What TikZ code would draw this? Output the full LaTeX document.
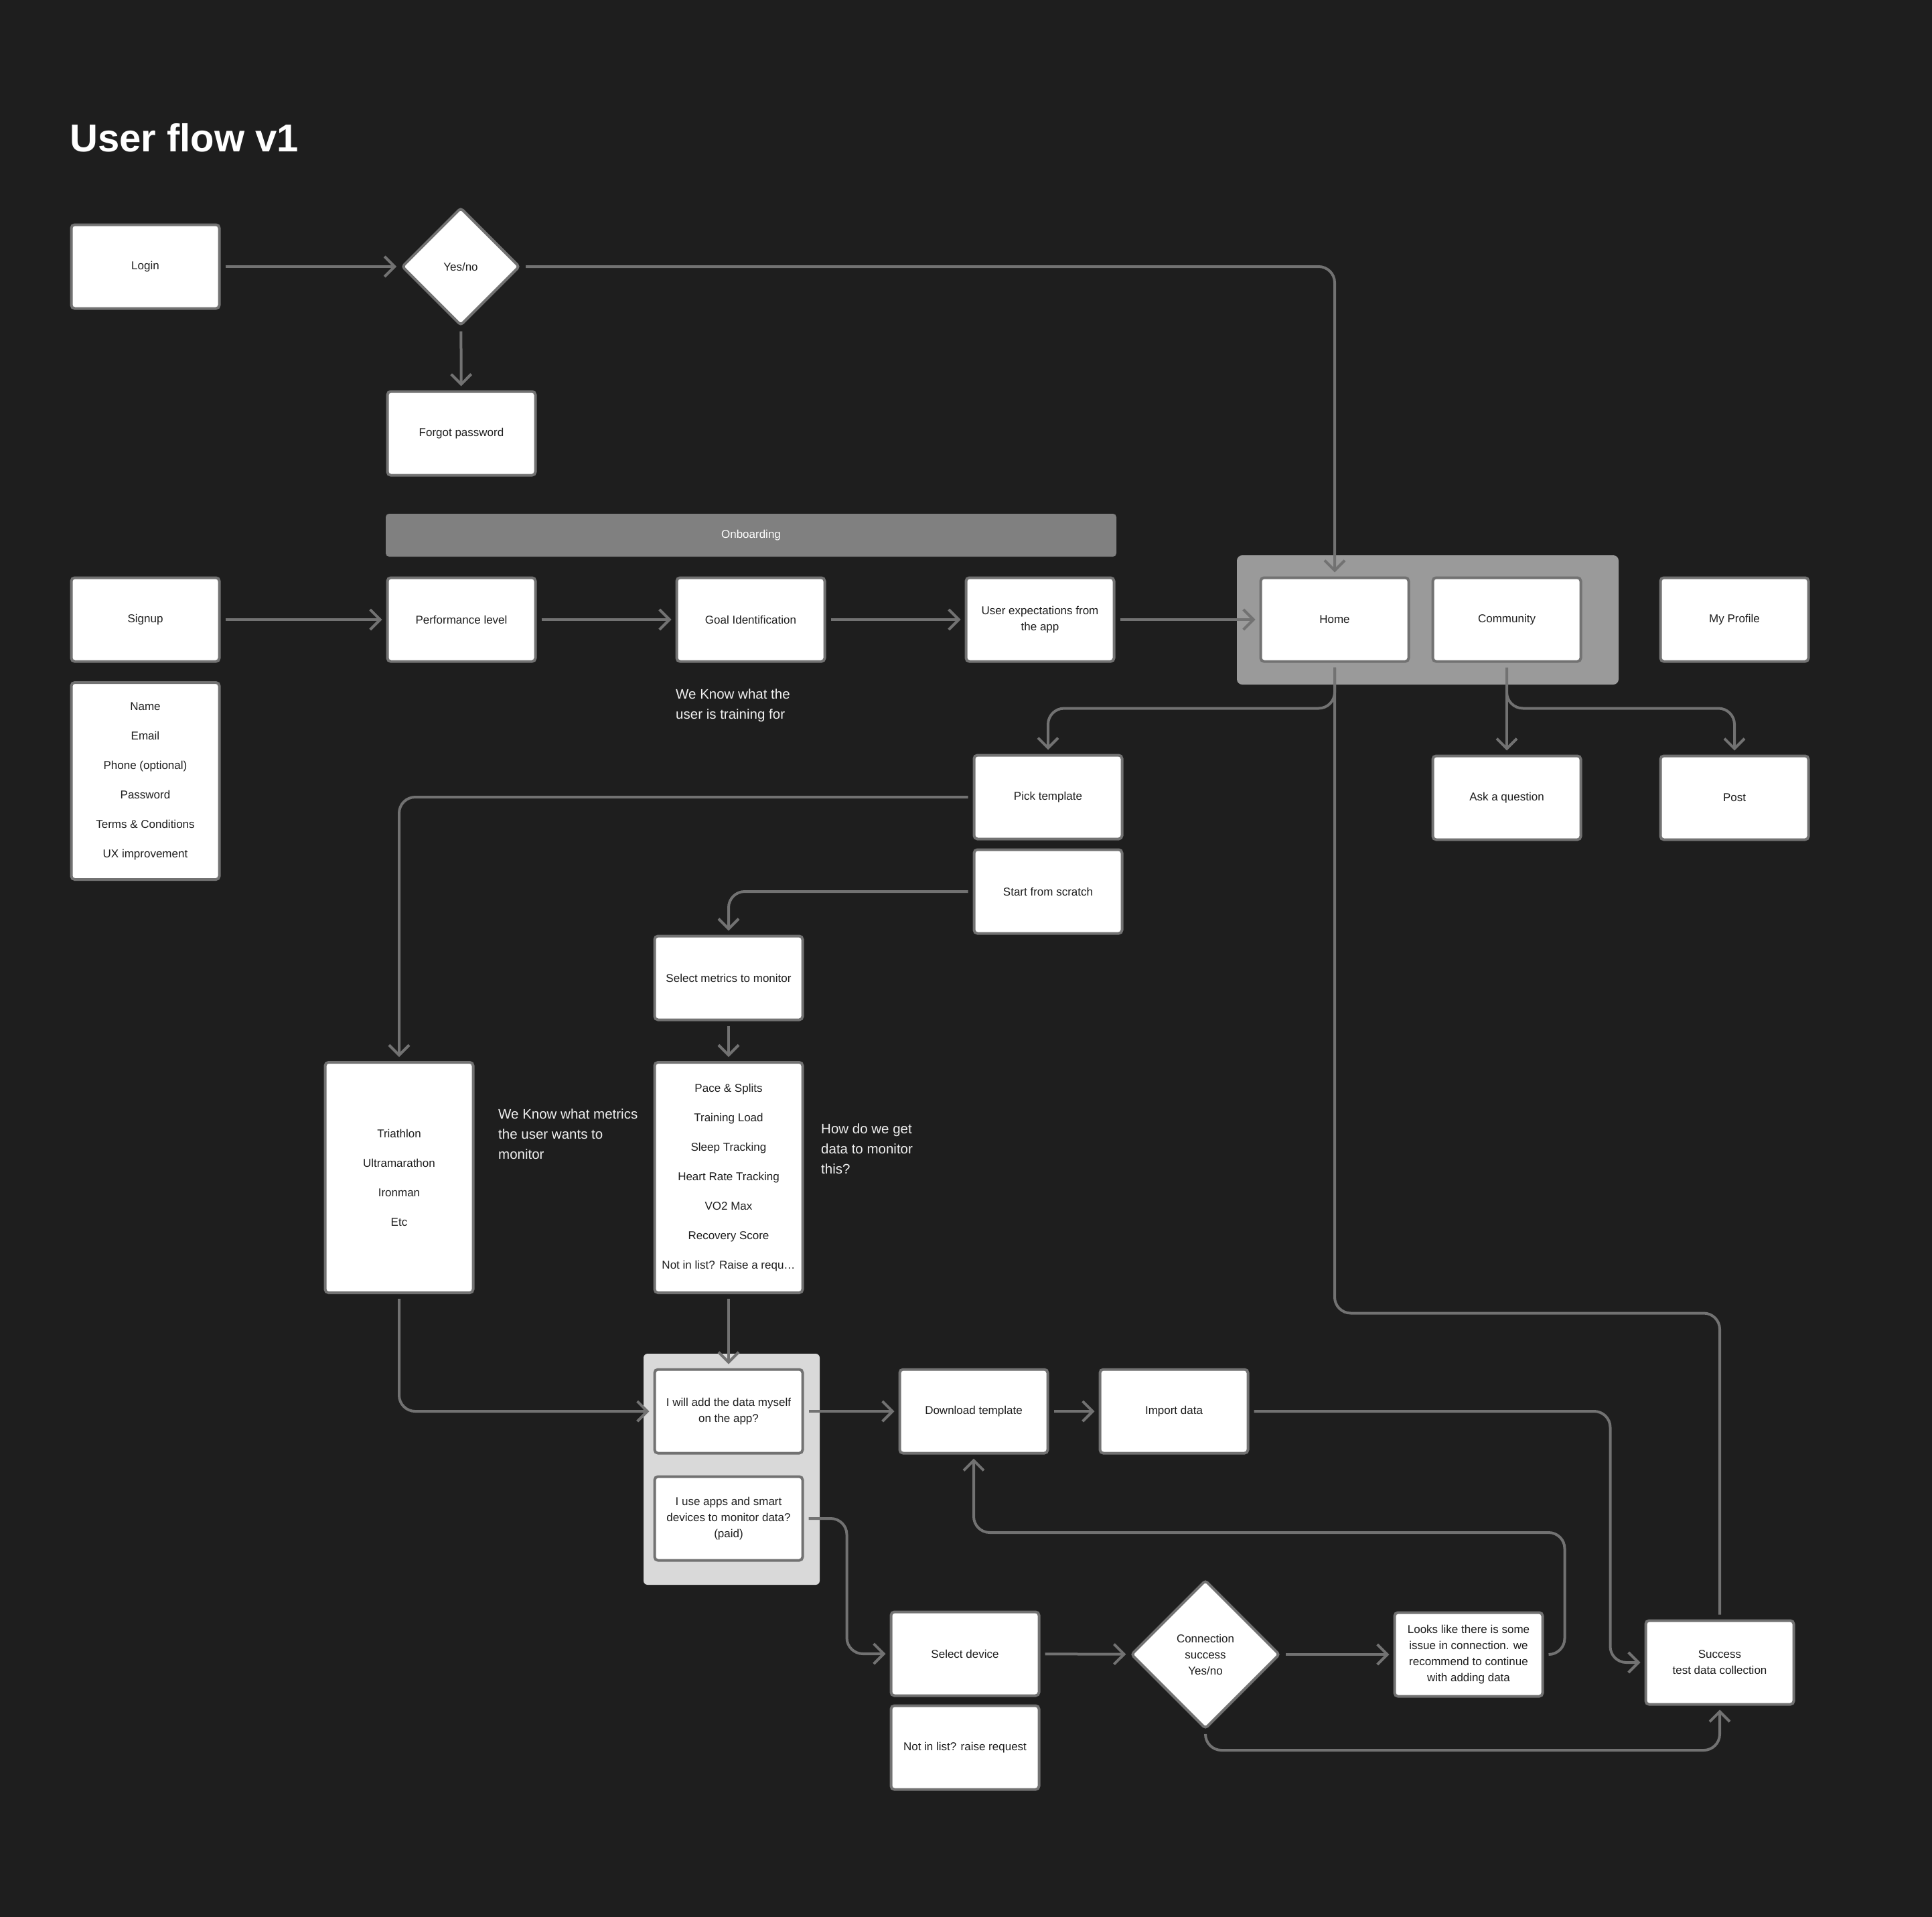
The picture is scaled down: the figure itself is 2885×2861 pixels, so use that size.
\documentclass[tikz,border=0pt]{standalone}
\usepackage{fontspec}
\setmainfont{Liberation Sans}
\definecolor{canvas}{HTML}{1E1E1E}
\definecolor{edgegray}{HTML}{727272}
\definecolor{inkdark}{HTML}{1E1E1E}
\definecolor{groupgray}{HTML}{9A9A9A}
\definecolor{bargray}{HTML}{808080}
\definecolor{panelgray}{HTML}{D9D9D9}
\usetikzlibrary{arrows.meta,shapes.geometric}

\begin{document}
\begin{tikzpicture}[x=1pt,y=-1pt,
    screen/.style={draw=edgegray,line width=4pt,fill=white,rounded corners=5pt,
      minimum width=221pt,minimum height=125pt,inner sep=0,align=center,
      text=inkdark,font=\fontsize{17}{24}\selectfont},
    listbox/.style={screen,font=\fontsize{17}{44}\selectfont},
    choice/.style={diamond,aspect=1,draw=edgegray,line width=4pt,fill=white,
      rounded corners=4pt,inner sep=0,align=center,text=inkdark,
      font=\fontsize{17}{24}\selectfont},
    note/.style={anchor=west,inner sep=0,align=left,text=white!94!black,
      font=\fontsize{20.5}{30}\selectfont},
    flow/.style={edgegray,line width=4pt,rounded corners=24pt,
      shorten <=7pt,shorten >=6pt,-{Straight Barb[length=15pt,width=30pt]}},
    link/.style={edgegray,line width=4pt,rounded corners=24pt,
      shorten <=7pt,shorten >=7pt}]
      \path[use as bounding box] (0,0) rectangle (2885,2861);
      \fill[canvas] (-20,-20) rectangle (2905,2881);
      \fill[groupgray,rounded corners=8pt] (1847,829) rectangle (2417,1022);
      \fill[panelgray,rounded corners=6pt] (961,2021) rectangle (1224,2366);
      \node[fill=bargray,rounded corners=5pt,minimum width=1091pt,
        minimum height=64pt,text=white,font=\fontsize{17}{24}\selectfont]
        (onboard) at (1121.5,799) {Onboarding};
      \node[anchor=base west,inner sep=0,text=white,
        font=\bfseries\fontsize{58}{70}\selectfont]
        (title) at (104,226) {User flow v1};

      \node[screen] (login) at (217,398) {Login};
      \node[choice,minimum size=176pt] (yesno) at (688,398) {Yes/no};
      \node[screen] (forgot) at (689,647) {Forgot password};

      \foreach \name/\x/\label in {signup/217/Signup,perf/689/Performance level,
          goal/1121/Goal Identification,expect/1553/{User expectations from\\the app},
          home/1993/Home,community/2250/Community,profile/2590/My Profile}{
        \node[screen] (\name) at (\x,925) {\label};
      }
      \node[listbox,minimum height=294pt] (details) at (217,1166)
        {Name\\Email\\Phone (optional)\\Password\\Terms \& Conditions\\UX improvement};
      \node[note] (goalnote) at (1009,1053) {We Know what the\\user is training for};

      \node[screen] (ask) at (2250,1191) {Ask a question};
      \node[screen] (post) at (2590,1191) {Post};
      \node[screen] (pick) at (1565,1190) {Pick template};
      \node[screen] (scratch) at (1565,1331) {Start from scratch};
      \node[screen] (selectmetrics) at (1088,1460) {Select metrics to monitor};

      \node[listbox,minimum height=344pt] (sports) at (596,1758)
        {Triathlon\\Ultramarathon\\Ironman\\Etc};
      \node[listbox,minimum height=344pt] (metrics) at (1088,1758)
        {Pace \& Splits\\Training Load\\Sleep Tracking\\Heart Rate Tracking\\VO2 Max\\Recovery Score\\Not in list? Raise a requ…};
      \node[note] (metricsnote) at (744,1693) {We Know what metrics\\the user wants to\\monitor};
      \node[note] (datanote) at (1226,1715) {How do we get\\data to monitor\\this?};

      \node[screen] (manual) at (1088,2107) {I will add the data myself\\on the app?};
      \node[screen] (apps) at (1088,2267) {I use apps and smart\\devices to monitor data?\\(paid)};
      \node[screen] (download) at (1454,2107) {Download template};
      \node[screen] (import) at (1753,2107) {Import data};
      \node[screen] (device) at (1441,2469) {Select device};
      \node[screen] (notlisted) at (1441,2609) {Not in list? raise request};
      \node[choice,minimum size=222pt] (connect) at (1800,2470) {Connection\\success\\Yes/no};
      \node[screen] (looks) at (2193,2470)
        {Looks like there is some\\issue in connection. we\\recommend to continue\\with adding data};
      \node[screen] (success) at (2568,2482) {Success\\test data collection};

      \draw[flow] (login) -- (yesno);
      \draw[flow] (yesno) -- (forgot);
      \draw[flow] (yesno.east) -| (home.north);
      \foreach \a/\b in {signup/perf,perf/goal,goal/expect,expect/home}{
        \draw[flow] (\a) -- (\b);
      }
      \draw[flow] (home.south) -- ++(0,68) -| (pick.north);
      \draw[flow] (community) -- (ask);
      \draw[flow] (community.south) -- ++(0,68) -| (post.north);
      \draw[link] (success.north) -- ++(0,-457) -| (home.south);
      \draw[flow] (pick.west) -| (sports.north);
      \draw[flow] (scratch.west) -| (selectmetrics.north);
      \draw[flow] (selectmetrics) -- (metrics);
      \draw[flow] (metrics) -- (manual);
      \draw[flow] (sports.south) |- (manual.west);
      \draw[flow] (manual) -- (download);
      \draw[flow] (download) -- (import);
      \draw[flow] (import.east) -- ++(539,0) |- (success.west);
      \draw[flow] (apps.east) -- ++(64,0) |- (device.west);
      \draw[flow] (device) -- (connect);
      \draw[flow] (connect) -- (looks);
      \draw[flow] (looks.east) -- ++(31,0) -- ++(0,-182) -| (download.south);
      \draw[flow] (connect.south) -- ++(0,30) -| (success.south);
    \end{tikzpicture}
\end{document}
